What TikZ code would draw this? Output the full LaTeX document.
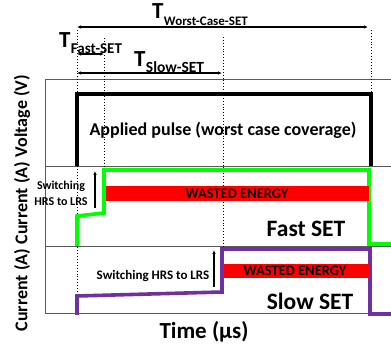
\documentclass[tikz,border=0pt]{standalone}
\usepackage{fontspec}
\setmainfont{Carlito}
\usetikzlibrary{arrows.meta}
\definecolor{pgreen}{RGB}{0,255,0}
\definecolor{ppurple}{RGB}{112,48,160}
\begin{document}
\begin{tikzpicture}[x=1pt,y=-1pt,
  axis/.style={draw=black!65, line width=0.8pt},
  dots/.style={dotted, line width=0.9pt},
  pulse/.style={line width=3.6pt, line join=miter},
  trace/.style={line width=3.6pt, line join=miter},
  tarrow/.style={{Latex[length=4pt,width=3.5pt]}-{Latex[length=4pt,width=3.5pt]}, line width=1.3pt},
  uparrow/.style={-{Latex[length=4pt,width=3.5pt]}, line width=1.3pt},
  bar/.style={fill=red, draw=none},
  fs/.style={font=\bfseries\fontsize{#1}{#1}\selectfont, inner sep=0pt},
]
\useasboundingbox (0,0) rectangle (391,347);
% coordinates
\coordinate (tl) at (45,79);
\coordinate (tr) at (391,79);
\coordinate (bl) at (45,313);
\coordinate (m1l) at (45,166); \coordinate (m1r) at (391,166);
\coordinate (m2l) at (45,246); \coordinate (m2r) at (391,246);
\coordinate (br) at (391,313);
% axes
\draw[axis] (tl) -- (tr);
\draw[axis] (tl) -- (bl) -- (br);
\draw[axis] (m1l) -- (m1r);
\draw[axis] (m2l) -- (m2r);
% dotted verticals
\coordinate (d1t) at (77,30);  \coordinate (d1b) at (77,313);
\coordinate (d2t) at (104,38); \coordinate (d2b) at (104,211);
\coordinate (d3t) at (223,37); \coordinate (d3b) at (223,250);
\coordinate (d4t) at (371,30); \coordinate (d4b) at (371,93);
\draw[dots] (d1t) -- (d1b);
\draw[dots] (d2t) -- (d2b);
\draw[dots] (d3t) -- (d3b);
\draw[dots] (d4t) -- (d4b);
% time arrows
\coordinate (w1) at (77,27);  \coordinate (w2) at (368,27);
\coordinate (f1) at (77,54);  \coordinate (f2) at (104,54);
\coordinate (s1) at (77,73);  \coordinate (s2) at (222,73);
\draw[tarrow] (w1) -- (w2);
\draw[tarrow] (f1) -- (f2);
\draw[tarrow] (s1) -- (s2);
\node[fs=23, anchor=base west] (tw) at (152,19) {T};
\node[fs=13, anchor=base west] (tws) at (tw.base east) [yshift=-6.5pt] {Worst-Case-SET};
\node[fs=23, anchor=base west] (tf) at (59,48) {T};
\node[fs=15, anchor=base west] (tfs) at (tf.base east) [yshift=-6pt] {Fast-SET};
\node[fs=23, anchor=base west] (ts) at (134,67) {T};
\node[fs=15.5, anchor=base west] (tss) at (ts.base east) [yshift=-5.5pt] {Slow-SET};
% pulse
\coordinate (p1) at (77,166); \coordinate (p2) at (77,94);
\coordinate (p3) at (371,94); \coordinate (p4) at (371,166);
\draw[pulse] (p1) -- (p2) -- (p3) -- (p4);
\node[fs=18] (ap) at (223,130) {Applied pulse (worst case coverage)};
% fast trace
\coordinate (g1) at (77,246); \coordinate (g2) at (77,216);
\coordinate (g3) at (104,213); \coordinate (g4) at (104,170);
\coordinate (g5) at (369,170); \coordinate (g6) at (369,244);
\coordinate (g7) at (391,244);
\draw[trace, pgreen] (g1) -- (g2) -- (g3) -- (g4) -- (g5) -- (g6) -- (g7);
\node[bar, minimum width=263pt, minimum height=15pt, anchor=north west] (fbar) at (106,186) {};
\node[fs=14.5] (fwe) at (237,194) {WASTED ENERGY};
\node[fs=23.5] (fset) at (306,229) {Fast SET};
\coordinate (fa1) at (95,208); \coordinate (fa2) at (95,171);
\draw[uparrow] (fa1) -- (fa2);
\node[fs=12, align=center] (fsw) at (61,193) {Switching\\[4pt]HRS to LRS};
% slow trace
\coordinate (q1) at (77,315); \coordinate (q2) at (77,296);
\coordinate (q3) at (222,292); \coordinate (q4) at (222,249);
\coordinate (q5) at (370,249); \coordinate (q6) at (370,314);
\coordinate (q7) at (391,314);
\draw[trace, ppurple] (q1) -- (q2) -- (q3) -- (q4) -- (q5) -- (q6) -- (q7);
\node[bar, minimum width=146pt, minimum height=14pt, anchor=north west] (sbar) at (224,264) {};
\node[fs=14.5] (swe) at (295,271) {WASTED ENERGY};
\node[fs=23.5] (sset) at (310,301) {Slow SET};
\coordinate (sa1) at (214,287); \coordinate (sa2) at (214,250);
\draw[uparrow] (sa1) -- (sa2);
\node[fs=13] (ssw) at (153,276) {Switching HRS to LRS};
% axis labels
\node[fs=23] (time) at (204,332) {Time (µs)};
\node[fs=18, rotate=90] (vl) at (22,116) {Voltage (V)};
\node[fs=18, rotate=90] (c1) at (22,203) {Current (A)};
\node[fs=18, rotate=90] (c2) at (22,290) {Current (A)};
\end{tikzpicture}
\end{document}
